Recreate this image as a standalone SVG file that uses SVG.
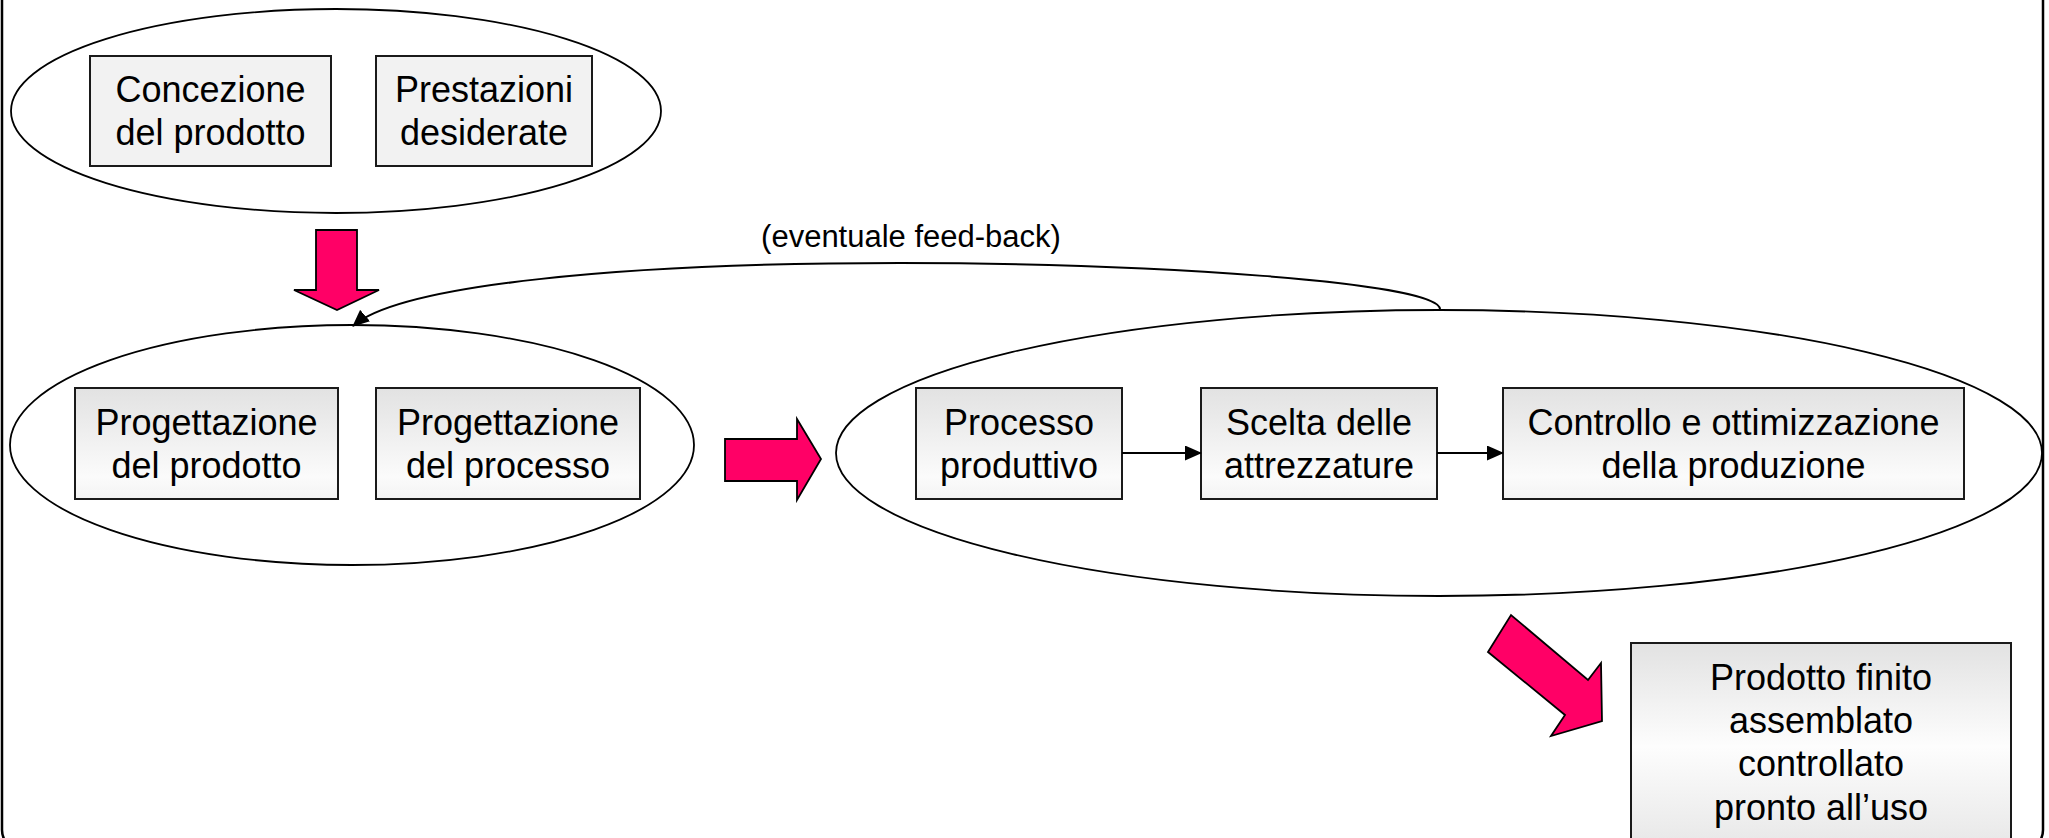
<svg xmlns="http://www.w3.org/2000/svg" width="2049" height="838" viewBox="0 0 2049 838">
<style>
  .txt { font-family: "Liberation Sans", Arial, sans-serif; font-size: 36px; fill: #000; text-anchor: middle; }
  .lbl { font-family: "Liberation Sans", Arial, sans-serif; font-size: 31px; fill: #000; text-anchor: middle; }
  .ell { fill: none; stroke: #000; stroke-width: 1.8; }
  .box { stroke: #1a1a1a; stroke-width: 2; }
  .flat { fill: #f2f2f2; }
  .grad { fill: url(#g1); }
  .grad2 { fill: url(#g2); }
  .big { fill: #ff0066; stroke: #000; stroke-width: 1.8; stroke-linejoin: miter; }
  .conn { fill: none; stroke: #000; stroke-width: 2; }
</style>
<defs>
  <linearGradient id="g1" x1="0" y1="0" x2="0" y2="1">
    <stop offset="0" stop-color="#e2e2e2"/>
    <stop offset="0.8" stop-color="#fbfbfb"/>
    <stop offset="1" stop-color="#f3f3f3"/>
  </linearGradient>
  <linearGradient id="g2" x1="0" y1="0" x2="0" y2="1">
    <stop offset="0" stop-color="#e2e2e2"/>
    <stop offset="0.45" stop-color="#fdfdfd"/>
    <stop offset="1" stop-color="#e2e2e2"/>
  </linearGradient>
  <marker id="ah" viewBox="0 0 17 15" refX="16" refY="7.5" markerWidth="17" markerHeight="15" markerUnits="userSpaceOnUse" orient="auto">
    <path d="M0,0 L17,7.5 L0,15 Z" fill="#000"/>
  </marker>
</defs>

<rect id="frame" x="2" y="-40" width="2041" height="890" rx="20" fill="none" stroke="#000" stroke-width="2.5"/>

<g id="group-top">
  <ellipse class="ell" cx="336" cy="111" rx="325" ry="102"/>
</g>
<g id="node-concezione">
  <rect class="box flat" x="90" y="56" width="241" height="110"/>
  <text class="txt" x="210.5" y="102">Concezione</text>
  <text class="txt" x="210.5" y="145">del prodotto</text>
</g>
<g id="node-prestazioni">
  <rect class="box flat" x="376" y="56" width="216" height="110"/>
  <text class="txt" x="484" y="102">Prestazioni</text>
  <text class="txt" x="484" y="145">desiderate</text>
</g>

<g id="group-progettazione">
  <ellipse class="ell" cx="352" cy="445" rx="342" ry="120"/>
</g>
<g id="node-prog-prodotto">
  <rect class="box grad" x="75" y="388" width="263" height="111"/>
  <text class="txt" x="206.5" y="435">Progettazione</text>
  <text class="txt" x="206.5" y="478">del prodotto</text>
</g>
<g id="node-prog-processo">
  <rect class="box grad" x="376" y="388" width="264" height="111"/>
  <text class="txt" x="508" y="435">Progettazione</text>
  <text class="txt" x="508" y="478">del processo</text>
</g>

<g id="group-produzione">
  <ellipse class="ell" cx="1439" cy="453" rx="603" ry="143"/>
</g>
<g id="node-processo">
  <rect class="box grad" x="916" y="388" width="206" height="111"/>
  <text class="txt" x="1019" y="435">Processo</text>
  <text class="txt" x="1019" y="478">produttivo</text>
</g>
<g id="node-scelta">
  <rect class="box grad" x="1201" y="388" width="236" height="111"/>
  <text class="txt" x="1319" y="435">Scelta delle</text>
  <text class="txt" x="1319" y="478">attrezzature</text>
</g>
<g id="node-controllo">
  <rect class="box grad" x="1503" y="388" width="461" height="111"/>
  <text class="txt" x="1733.5" y="435">Controllo e ottimizzazione</text>
  <text class="txt" x="1733.5" y="478">della produzione</text>
</g>

<g id="node-finale">
  <rect class="box grad2" x="1631" y="643" width="380" height="230"/>
  <text class="txt" x="1821" y="690">Prodotto finito</text>
  <text class="txt" x="1821" y="733">assemblato</text>
  <text class="txt" x="1821" y="776">controllato</text>
  <text class="txt" x="1821" y="820">pronto all’uso</text>
</g>

<g id="connectors">
  <polygon class="big" points="316,230 357,230 357,290 379,290 337,310 294,290 316,290"/>
  <polygon class="big" points="725,439 797,439 797,419 821,459 797,500 797,481 725,481"/>
  <polygon class="big" points="1488,652 1511,615 1588,680 1601,663 1602,721 1551,736 1565,715"/>
  <line class="conn" x1="1122" y1="453" x2="1201" y2="453" marker-end="url(#ah)"/>
  <line class="conn" x1="1437" y1="453" x2="1503" y2="453" marker-end="url(#ah)"/>
  <path class="conn" d="M1440,309 C1438,282 1150,263 900,263 C620,263 400,285 353,326" marker-end="url(#ah)"/>
  <text class="lbl" x="911" y="247">(eventuale feed-back)</text>
</g>
</svg>
